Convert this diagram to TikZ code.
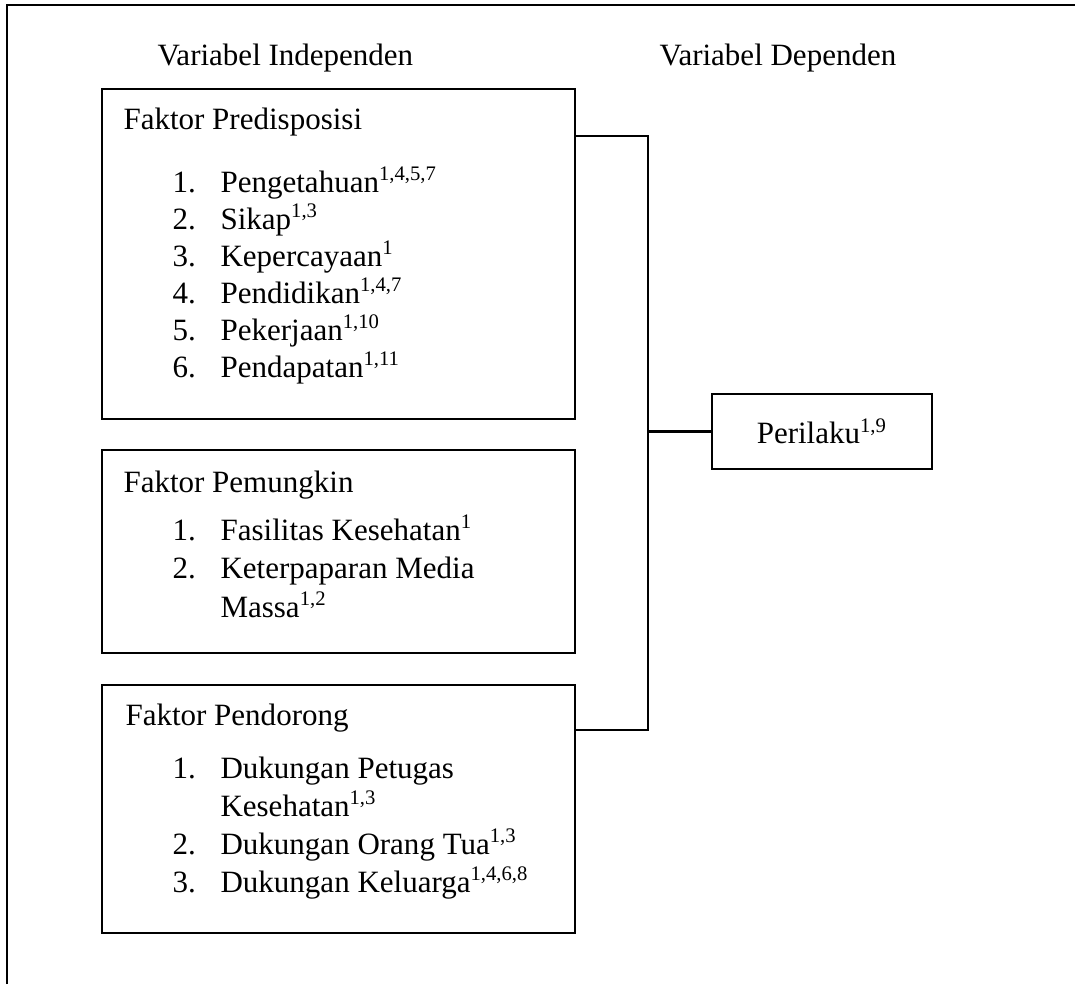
\documentclass[tikz,border=0pt]{standalone}
\usepackage{fontspec}
\setmainfont{Liberation Serif}
\usepackage{tikz}
\usetikzlibrary{fit}

\tikzset{
  factorbox/.style={draw, line width=1pt, inner sep=0pt},
  txt/.style={anchor=base west, inner sep=0pt, font=\fontsize{12}{14}\selectfont},
  link/.style={line width=0.85pt}
}
\newcommand{\numbox}[1]{\makebox[18.6pt][l]{#1}}

\begin{document}
\begin{tikzpicture}[x=0.387pt,y=0.387pt,yscale=-1,xscale=1]
\useasboundingbox (0,0) rectangle (1075,984);

%Outer frame
\draw [line width=0.85pt] (7,984) -- (7,5) -- (1080,5) ;

% Text Node
\node [txt] (indep) at (157,65) {Variabel Independen};
% Text Node
\node [txt] (dep) at (659,65) {Variabel Dependen};

%Shape: Rectangle
\node [factorbox, fit={(102,89) (575,419)}] (pred) {};
%Shape: Rectangle
\node [factorbox, fit={(102,450) (575,653)}] (pemu) {};
%Shape: Rectangle
\node [factorbox, fit={(102,685) (575,933)}] (pendo) {};
%Shape: Rectangle
\node [factorbox, fit={(712,394) (932,469)}] (peri) {};
% Text Node
\node [font=\fontsize{12}{14}\selectfont, inner sep=0pt] (periT) at (peri.center) {Perilaku\textsuperscript{1,9}};

% Text Node
\node [txt] (predT) at (123,129) {Faktor Predisposisi};
\node [txt] (pred1) at (172,192) {\numbox{1.}Pengetahuan\textsuperscript{1,4,5,7}};
\node [txt] (pred2) at (172,229) {\numbox{2.}Sikap\textsuperscript{1,3}};
\node [txt] (pred3) at (172,266) {\numbox{3.}Kepercayaan\textsuperscript{1}};
\node [txt] (pred4) at (172,303) {\numbox{4.}Pendidikan\textsuperscript{1,4,7}};
\node [txt] (pred5) at (172,340) {\numbox{5.}Pekerjaan\textsuperscript{1,10}};
\node [txt] (pred6) at (172,377) {\numbox{6.}Pendapatan\textsuperscript{1,11}};

% Text Node
\node [txt] (pemuT) at (123,492) {Faktor Pemungkin};
\node [txt] (pemu1) at (172,540) {\numbox{1.}Fasilitas Kesehatan\textsuperscript{1}};
\node [txt] (pemu2) at (172,578) {\numbox{2.}Keterpaparan Media};
\node [txt] (pemu2b) at (220,617) {Massa\textsuperscript{1,2}};

% Text Node
\node [txt] (pendoT) at (125,725) {Faktor Pendorong};
\node [txt] (pendo1) at (172,778) {\numbox{1.}Dukungan Petugas};
\node [txt] (pendo1b) at (220,816) {Kesehatan\textsuperscript{1,3}};
\node [txt] (pendo2) at (172,854) {\numbox{2.}Dukungan Orang Tua\textsuperscript{1,3}};
\node [txt] (pendo3) at (172,892) {\numbox{3.}Dukungan Keluarga\textsuperscript{1,4,6,8}};

%Straight Lines
\coordinate (jtop) at (648,136);
\coordinate (jbot) at (648,730);
\draw [link] (pred.east |- jtop) -- (jtop) -- (jbot) -- (pendo.east |- jbot) ;
\draw [link] (jtop |- peri.west) -- (peri.west) ;

\end{tikzpicture}
\end{document}
